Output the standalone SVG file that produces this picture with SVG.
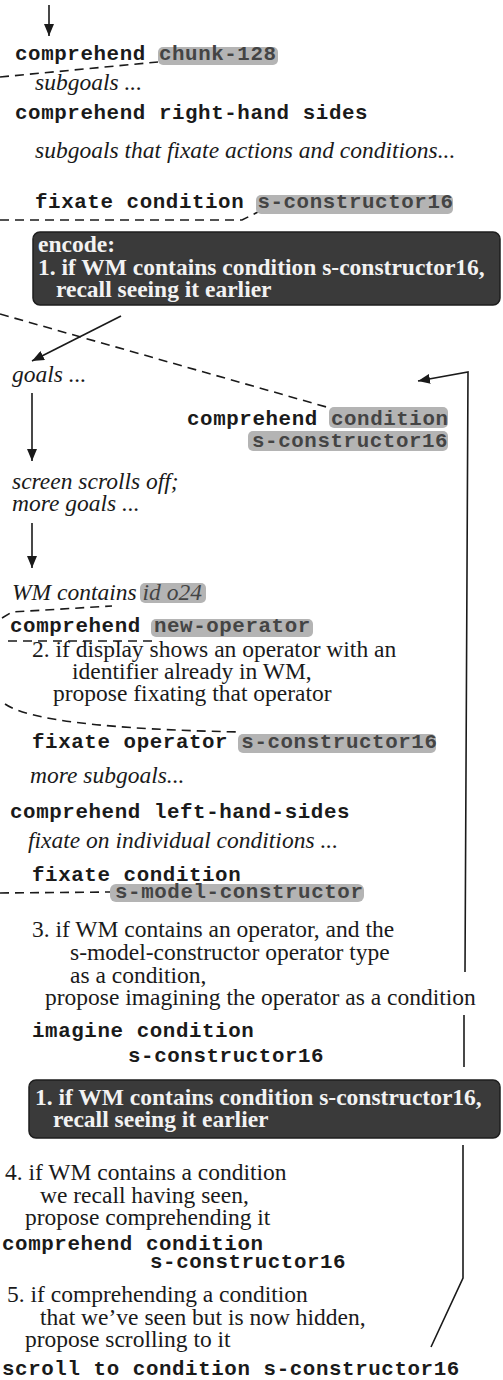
<svg xmlns="http://www.w3.org/2000/svg" width="503" height="1380" viewBox="0 0 503 1380">
<style>
.m{font-family:"Liberation Mono","Courier New",monospace;font-weight:bold;font-size:20.8px;letter-spacing:0.6px;fill:#1a1a1a}
.s{font-family:"Liberation Serif","Times New Roman",serif;font-size:23.5px;fill:#1a1a1a}
.i{font-family:"Liberation Serif","Times New Roman",serif;font-style:italic;font-size:23.5px;fill:#1a1a1a}
.b{font-family:"Liberation Serif","Times New Roman",serif;font-weight:bold;font-size:23.5px;fill:#f2f2f2}
.hl{fill:#b4b4b4}
.ht{fill:#444}
.box{fill:#3a3a3a;stroke:#1e1e1e;stroke-width:1.5}
.c{fill:none;stroke:#1a1a1a;stroke-width:1.6}
.d{fill:none;stroke:#1a1a1a;stroke-width:1.6;stroke-dasharray:9 6}
</style>
<defs>
<marker id="ah" viewBox="0 0 12 10" refX="12" refY="5" markerWidth="12" markerHeight="10" markerUnits="userSpaceOnUse" orient="auto">
<path d="M0,0 L12,5 L0,10 Z" fill="#1a1a1a"/>
</marker>
</defs>

<g id="connectors">
<line class="c" x1="49" y1="5" x2="49" y2="36" marker-end="url(#ah)"/>
<path class="d" d="M0,77 L158,62"/>
<path class="d" d="M0,220 L242,220 L258,212"/>
<path class="d" d="M0,314 L330,408"/>
<line class="c" x1="121" y1="316" x2="32" y2="361" marker-end="url(#ah)"/>
<line class="c" x1="32" y1="393" x2="32" y2="461" marker-end="url(#ah)"/>
<line class="c" x1="32" y1="523" x2="32" y2="568" marker-end="url(#ah)"/>
<path class="d" d="M2,618 L12,612 L112,606"/>
<path class="d" d="M8,641 L152,641"/>
<path class="d" d="M5,704 Q40,728 240,732"/>
<path class="d" d="M0,893 L112,892"/>
<path class="c" d="M465,972 L468,372 L418,381" marker-end="url(#ah)"/>
<line class="c" x1="464" y1="1015" x2="464" y2="1067"/>
<path class="c" d="M463,1145 L463,1278 L431,1347"/>
</g>

<g id="n1">
<rect class="hl" x="158" y="47" width="120" height="18" rx="5"/>
<text class="m" x="15" y="60">comprehend <tspan class="ht">chunk-128</tspan></text>
</g>
<g id="n2"><text class="i" x="35" y="90">subgoals ...</text></g>
<g id="n3"><text class="m" x="15" y="119">comprehend right-hand sides</text></g>
<g id="n4"><text class="i" x="35" y="158">subgoals that fixate actions and conditions...</text></g>
<g id="n5">
<rect class="hl" x="256" y="195" width="197" height="19" rx="5"/>
<text class="m" x="35" y="208">fixate condition <tspan class="ht">s-constructor16</tspan></text>
</g>
<g id="n6">
<rect class="box" x="33" y="232" width="467" height="73" rx="7"/>
<text class="b" x="38" y="252">encode:</text>
<text class="b" x="38" y="275">1. if WM contains condition s-constructor16,</text>
<text class="b" x="56" y="297">recall seeing it earlier</text>
</g>
<g id="n7"><text class="i" x="12" y="382">goals ...</text></g>
<g id="n8">
<rect class="hl" x="329" y="407" width="119" height="21" rx="5"/>
<rect class="hl" x="248" y="431" width="200" height="20" rx="5"/>
<text class="m" x="187" y="425">comprehend <tspan class="ht">condition</tspan></text>
<text class="m ht" x="252" y="447">s-constructor16</text>
</g>
<g id="n9">
<text class="i" x="12" y="489">screen scrolls off;</text>
<text class="i" x="12" y="511">more goals ...</text>
</g>
<g id="n10">
<rect class="hl" x="140" y="583" width="66" height="20" rx="5"/>
<text class="i" x="12" y="600">WM contains <tspan class="ht">id o24</tspan></text>
</g>
<g id="n11">
<rect class="hl" x="151" y="619" width="162" height="18" rx="5"/>
<text class="m" x="10" y="632">comprehend <tspan class="ht">new-operator</tspan></text>
</g>
<g id="n12">
<text class="s" x="32" y="657">2. if display shows an operator with an</text>
<text class="s" x="72" y="679">identifier already in WM,</text>
<text class="s" x="53" y="701">propose fixating that operator</text>
</g>
<g id="n13">
<rect class="hl" x="238" y="734" width="198" height="19" rx="5"/>
<text class="m" x="32" y="748">fixate operator <tspan class="ht">s-constructor16</tspan></text>
</g>
<g id="n14"><text class="i" x="30" y="783">more subgoals...</text></g>
<g id="n15"><text class="m" x="10" y="818">comprehend left-hand-sides</text></g>
<g id="n16"><text class="i" x="28" y="848">fixate on individual conditions ...</text></g>
<g id="n17">
<rect class="hl" x="110" y="884" width="254" height="18" rx="6"/>
<text class="m" x="32" y="881">fixate condition</text>
<text class="m ht" x="115" y="898">s-model-constructor</text>
</g>
<g id="n18">
<text class="s" x="32" y="937">3. if WM contains an operator, and the</text>
<text class="s" x="70" y="960">s-model-constructor operator type</text>
<text class="s" x="70" y="983">as a condition,</text>
<text class="s" x="45" y="1005">propose imagining the operator as a condition</text>
</g>
<g id="n19">
<text class="m" x="32" y="1037">imagine condition</text>
<text class="m" x="128" y="1062">s-constructor16</text>
</g>
<g id="n20">
<rect class="box" x="29" y="1080" width="471" height="58" rx="7"/>
<text class="b" x="35" y="1105">1. if WM contains condition s-constructor16,</text>
<text class="b" x="53" y="1127">recall seeing it earlier</text>
</g>
<g id="n21">
<text class="s" x="5" y="1180">4. if WM contains a condition</text>
<text class="s" x="40" y="1203">we recall having seen,</text>
<text class="s" x="25" y="1225">propose comprehending it</text>
</g>
<g id="n22">
<text class="m" x="2" y="1250">comprehend condition</text>
<text class="m" x="150" y="1268">s-constructor16</text>
</g>
<g id="n23">
<text class="s" x="7" y="1302">5. if comprehending a condition</text>
<text class="s" x="40" y="1325">that we’ve seen but is now hidden,</text>
<text class="s" x="25" y="1347">propose scrolling to it</text>
</g>
<g id="n24"><text class="m" x="2" y="1375">scroll to condition s-constructor16</text></g>
</svg>
